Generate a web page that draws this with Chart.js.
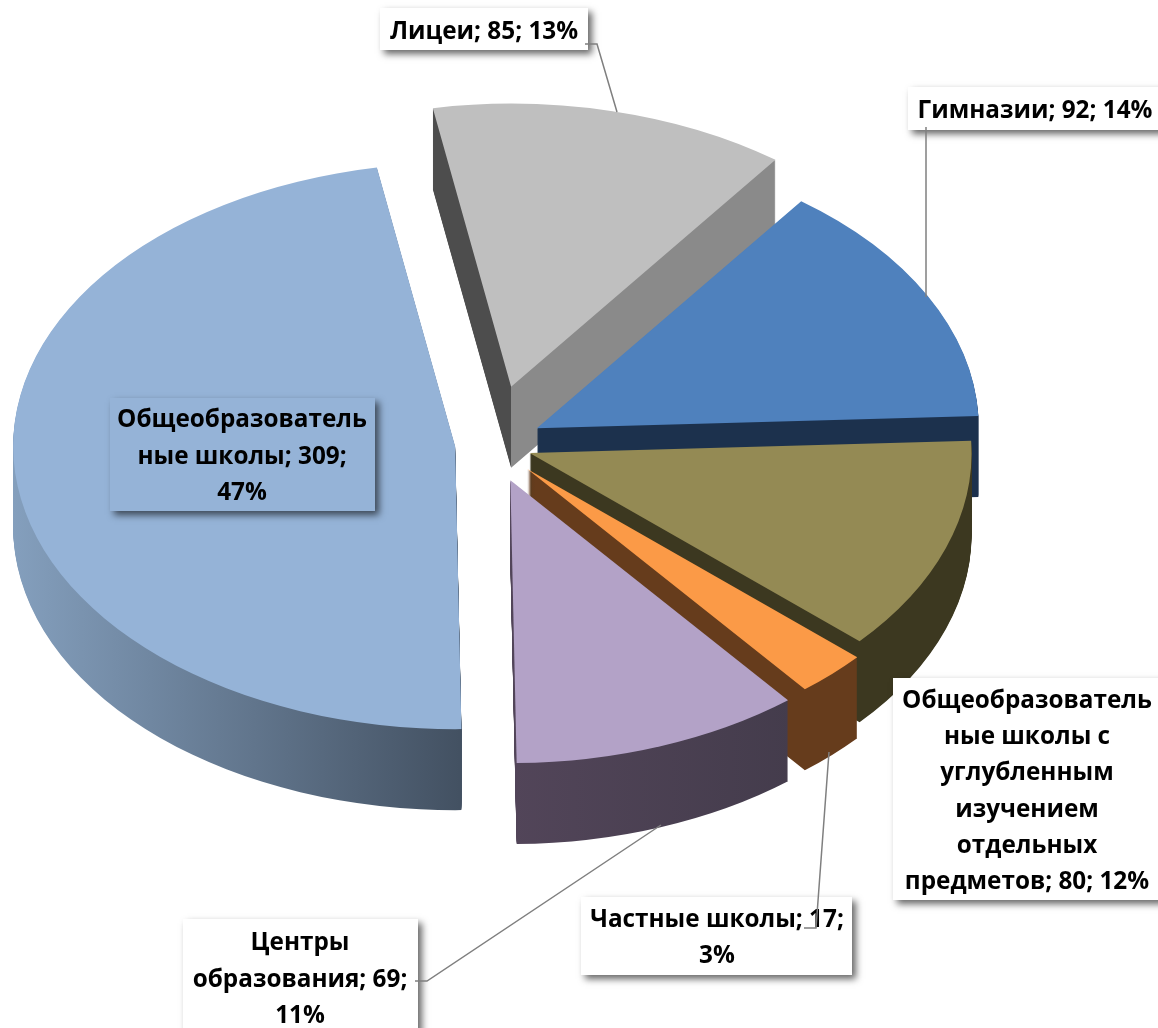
<!DOCTYPE html>
<html>
<head>
<meta charset="utf-8">
<title>Школы</title>
<style>
    html, body { margin: 0; padding: 0; background: #fff; }
    canvas { display: block; }
</style>
<script src="https://cdn.jsdelivr.net/npm/chart.js@4"></script>
</head>
<body>
<canvas id="schools-pie-chart" width="1158" height="1028"></canvas>
<script>
/* Chart data */
let categories = ['Лицеи', 'Гимназии', 'Общеобразовательные школы с углубленным изучением отдельных предметов', 'Частные школы', 'Центры образования', 'Общеобразовательные школы']
let schoolCounts = [85, 92, 80, 17, 69, 309]
let labelLines = [
    ['Лицеи; 85; 13%'],
    ['Гимназии; 92; 14%'],
    ['Общеобразователь', 'ные школы с', 'углубленным', 'изучением', 'отдельных', 'предметов; 80; 12%'],
    ['Частные школы; 17;', '3%'],
    ['Центры', 'образования; 69;', '11%'],
    ['Общеобразователь', 'ные школы; 309;', '47%']
]

/* Slice colors */
let topColors = ['#bfbfbf', '#4f81bd', '#948a54', '#fb9a47', '#b3a2c7', '#95b3d7']
let wallStops = [
    [[0, '#4d4d4d'], [0.5, '#4d4d4d'], [0.5, '#8a8a8a'], [1, '#8a8a8a']],
    [[0, '#1c314d'], [1, '#1c314d']],
    [[0, '#3c3820'], [1, '#3c3820']],
    [[0, '#663c1c'], [1, '#663c1c']],
    [[0, '#524559'], [0.5, '#524559'], [0.82, '#443c4c'], [1, '#443c4c']],
    [[0, '#849fbd'], [0.505, '#435162'], [1, '#435162']]
]

/* How the flat pie is tilted and pulled apart */
let pieCenter = { x: 490, y: 444 }
let radiusX = 442
let radiusY = 283
let pieDepth = 81
let explode = [92, 53, 42, 54, 60, 35]
let startRotation = -10.2

/* Label boxes and leader lines */
let labelBoxes = [
    { x: 380, y: 8, w: 208, h: 42, textX: 484, baseline: 39, lineGap: 36, fill: '#ffffff' },
    { x: 908, y: 87, w: 260, h: 43, textX: 1035, baseline: 118, lineGap: 36, fill: '#ffffff' },
    { x: 893, y: 678, w: 275, h: 222, textX: 1027, baseline: 708, lineGap: 36.2, fill: '#ffffff' },
    { x: 581, y: 897, w: 271, h: 78, textX: 717, baseline: 927, lineGap: 36, fill: '#ffffff' },
    { x: 183, y: 919, w: 235, h: 120, textX: 300, baseline: 950, lineGap: 36.5, fill: '#ffffff' },
    { x: 110, y: 398, w: 265, h: 113, textX: 242, baseline: 427, lineGap: 36.5, fill: '#95b3d7' }
]
let leaderLines = [
    [[585, 44], [597, 44], [617, 112]],
    [[926, 127], [926, 297]],
    [[829, 752], [816, 928], [804, 928]],
    [[661, 825], [427, 981], [415, 981]]
]

function drawSlice(ctx, arc, index, depth, fill) {
    let midAngle = (arc.startAngle + arc.endAngle) / 2
    let shiftX = explode[index] * Math.cos(midAngle)
    let shiftY = explode[index] * Math.sin(midAngle) * radiusY / radiusX
    let radius = arc.outerRadius

    ctx.save()
    ctx.translate(pieCenter.x + shiftX, pieCenter.y + shiftY + depth)
    ctx.scale(radiusX / radius, radiusY / radius)
    ctx.translate(-arc.x, -arc.y)

    let savedOptions = arc.options
    arc.options = Object.assign({}, savedOptions, { backgroundColor: fill })
    arc.draw(ctx)
    arc.options = savedOptions
    ctx.restore()
}

function wallFill(ctx, arc, index) {
    let gradient = ctx.createLinearGradient(arc.x - arc.outerRadius, 0, arc.x + arc.outerRadius, 0)
    wallStops[index].forEach(function(stop) {
        gradient.addColorStop(stop[0], stop[1])
    })
    return gradient
}

// Doughnut draws slices in data order, which is also back to front for this rotation
let tiltedPie = {
    id: 'tiltedPie',
    beforeDatasetDraw(chart, args) {
        let ctx = chart.ctx
        args.meta.data.forEach(function(arc, index) {
            let fill = wallFill(ctx, arc, index)
            for (let depth = pieDepth; depth > 0; depth--) {
                drawSlice(ctx, arc, index, depth, fill)
            }
            drawSlice(ctx, arc, index, 0, topColors[index])
        })
        return false
    }
}

let calloutLabels = {
    id: 'calloutLabels',
    afterDatasetsDraw(chart) {
        let ctx = chart.ctx
        ctx.save()

        labelBoxes.forEach(function(box) {
            ctx.save()
            ctx.shadowColor = 'rgba(0, 0, 0, 0.6)'
            ctx.shadowBlur = 7
            ctx.shadowOffsetX = 4
            ctx.shadowOffsetY = 4
            ctx.fillStyle = box.fill
            ctx.fillRect(box.x, box.y, box.w, box.h)
            ctx.restore()
        })

        ctx.font = 'bold 24.3px "Open Sans", sans-serif'
        ctx.fillStyle = '#000000'
        ctx.textAlign = 'center'
        ctx.textBaseline = 'alphabetic'
        labelBoxes.forEach(function(box, index) {
            labelLines[index].forEach(function(line, lineIndex) {
                ctx.fillText(line, box.textX, box.baseline + lineIndex * box.lineGap)
            })
        })

        ctx.strokeStyle = '#7f7f7f'
        ctx.lineWidth = 1.5
        leaderLines.forEach(function(points) {
            ctx.beginPath()
            points.forEach(function(point, pointIndex) {
                if (pointIndex == 0) {
                    ctx.moveTo(point[0], point[1])
                } else {
                    ctx.lineTo(point[0], point[1])
                }
            })
            ctx.stroke()
        })

        ctx.restore()
    }
}

let chartCanvas = document.querySelector('#schools-pie-chart')
let ctx = chartCanvas.getContext('2d')

let schoolsChart = new Chart(ctx, {
    type: 'pie',
    data: {
        labels: categories,
        datasets: [
            {
                data: schoolCounts,
                backgroundColor: topColors,
                borderWidth: 0
            }
        ]
    },
    options: {
        responsive: false,
        animation: false,
        rotation: startRotation,
        layout: { padding: 0 },
        plugins: {
            legend: { display: false },
            tooltip: { enabled: false }
        }
    },
    plugins: [tiltedPie, calloutLabels]
})
</script>
</body>
</html>
